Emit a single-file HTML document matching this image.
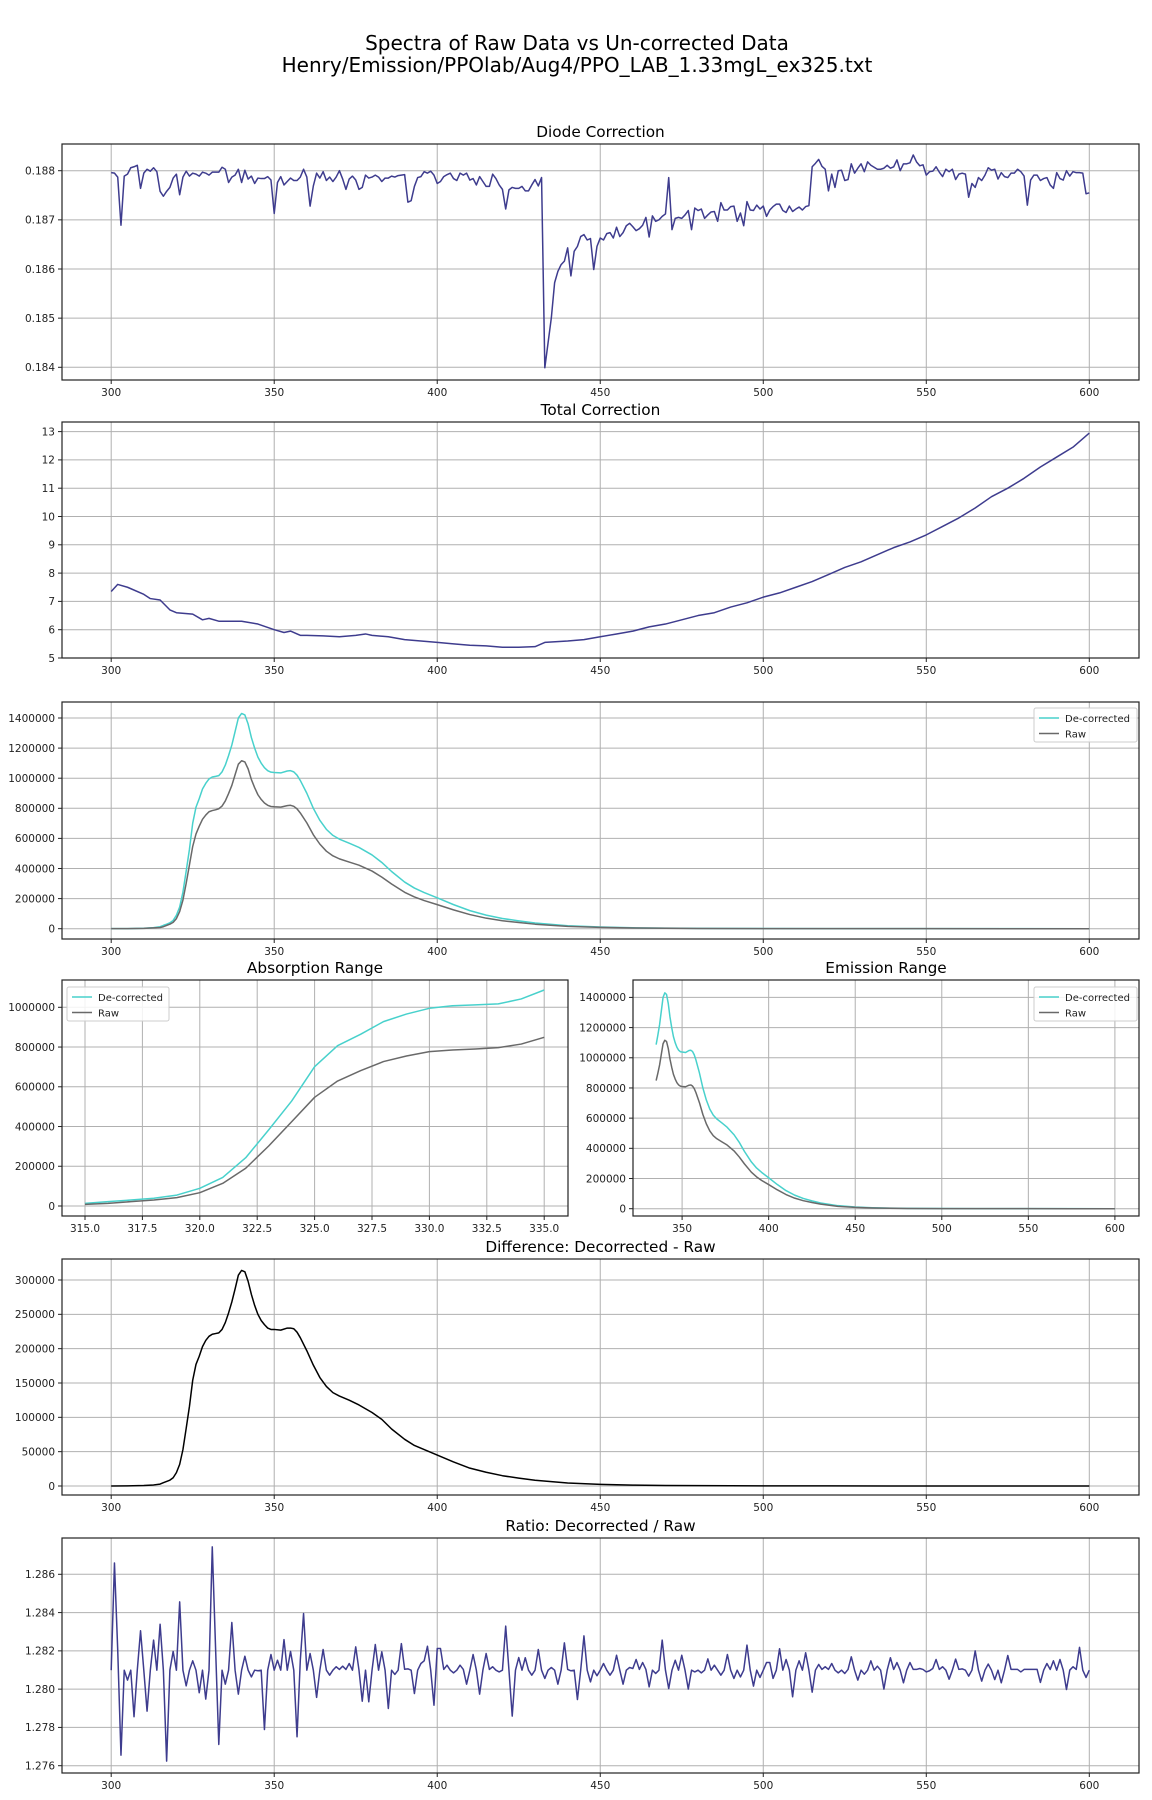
<!DOCTYPE html>
<html><head><meta charset="utf-8">
<style>
html,body{margin:0;padding:0;background:#fff;}
svg{display:block;font-family:"DejaVu Sans","Liberation Sans",sans-serif;}
</style></head>
<body>
<svg id="fig" width="1152" height="1800" viewBox="0 0 1152 1800" xmlns="http://www.w3.org/2000/svg">
<rect width="1152" height="1800" fill="#fff"/>
<text x="577" y="50" font-size="20" text-anchor="middle" fill="#000">Spectra of Raw Data vs Un-corrected Data</text>
<text x="577" y="72" font-size="20" text-anchor="middle" fill="#000">Henry/Emission/PPOlab/Aug4/PPO_LAB_1.33mgL_ex325.txt</text>
</svg>
<script>
// ---------- DATA ----------
const diodeStart = 300;
const diodeValues = [
.18796,.18795,.18787,.18689,.18789,.18793,.18806,.18808,.18811,.18764,
.18795,.18803,.18799,.18806,.18798,.18758,.18748,.18758,.18766,.18785,
.18793,.18751,.18787,.18799,.18789,.18795,.18793,.18789,.18797,.18795,
.18791,.18797,.18797,.18797,.18807,.18803,.18776,.18787,.18791,.18803,
.18776,.18801,.18783,.18789,.18774,.18785,.18784,.18784,.18788,.18781,
.18713,.18776,.18788,.18771,.18778,.18785,.18780,.18780,.18787,.18803,
.18787,.18728,.18769,.18795,.18785,.18798,.18780,.18787,.18778,.18787,
.18800,.18783,.18762,.18783,.18789,.18781,.18762,.18766,.18791,.18785,
.18787,.18791,.18787,.18778,.18785,.18785,.18789,.18787,.18790,
.18791,.18792,.18736,.18739,.18768,.18786,.18788,.18798,.18795,.18799,.18791,
.18774,.18778,.18788,.18792,.18795,.18784,.18780,.18795,.18791,.18795,
.18781,.18784,.18771,.18788,.18778,.18768,.18768,.18793,.18784,.18771,
.18762,.18722,.18761,.18766,.18764,.18764,.18768,.18759,.18759,.18771,
.18782,.18769,.18786,.18399,.18450,.18501,.18572,.18595,.18609,.18616,
.18643,.18586,.18636,.18646,.18666,.18670,.18659,.18662,.18599,.18646,
.18663,.18659,.18672,.18674,.18663,.18685,.18666,.18674,.18688,.18693,
.18686,.18678,.18682,.18689,.18705,.18665,.18708,.18697,.18700,.18707,
.18712,.18786,.18680,.18703,.18705,.18703,.18710,.18719,.18680,.18724,
.18719,.18722,.18703,.18710,.18716,.18717,.18697,.18735,.18720,.18720,
.18727,.18728,.18697,.18714,.18688,.18737,.18720,.18719,.18730,.18722,
.18728,
.18707,.18720,.18727,.18732,.18732,.18719,.18715,.18728,.18717,.18722,
.18726,.18720,.18727,.18729,.18808,.18815,.18823,.18809,.18803,.18759,
.18793,.18766,.18800,.18801,.18780,.18782,.18814,.18795,.18805,.18814,
.18798,.18818,.18811,.18807,.18803,.18803,.18805,.18811,.18805,.18808,
.18822,.18800,.18814,.18814,.18816,.18832,.18818,.18810,.18812,.18791,
.18798,.18799,.18808,.18797,.18788,.18803,.18798,.18803,.18782,.18793,
.18795,.18793,.18746,.18774,.18766,.18786,.18780,.18791,.18806,.18801,
.18803,.18783,.18796,.18788,.18786,.18795,.18795,.18803,.18798,.18789,
.18730,.18781,.18791,.18791,.18780,.18784,.18786,.18771,.18764,.18796,
.18784,.18781,.18800,.18789,.18798,.18796,.18796,.18795,.18753,.18755
];
const totalX = [300,302,305,310,312,315,318,320,325,328,330,333,335,340,345,350,353,355,358,360,365,370,375,378,380,385,390,395,400,405,410,415,420,425,430,433,440,445,450,455,460,465,470,475,480,485,490,495,500,505,510,515,520,525,530,535,540,545,550,555,560,565,570,575,580,585,590,595,600];
const totalValues = [7.35,7.6,7.5,7.25,7.1,7.05,6.7,6.6,6.55,6.35,6.4,6.3,6.3,6.3,6.2,6.0,5.9,5.95,5.8,5.8,5.78,5.75,5.8,5.85,5.8,5.75,5.65,5.6,5.55,5.5,5.45,5.43,5.38,5.38,5.4,5.55,5.6,5.65,5.75,5.85,5.95,6.1,6.2,6.35,6.5,6.6,6.8,6.95,7.15,7.3,7.5,7.7,7.95,8.2,8.4,8.65,8.9,9.1,9.35,9.65,9.95,10.3,10.7,11.0,11.35,11.75,12.1,12.45,12.95];
const specX = [300,305,310,313,315,316,317,318,319,320,321,322,323,324,325,326,327,328,329,330,331,332,333,334,335,336,337,338,339,340,341,342,343,344,345,346,347,348,349,350,352,354,355,356,357,358,360,362,364,366,368,370,373,376,380,383,386,390,393,396,400,405,410,415,420,425,430,440,450,460,470,480,500,520,550,575,600];
const decorrected = [200,800,3000,7000,13000,22000,30000,39000,55000,89000,144000,243000,383000,528000,701000,807000,864000,928000,966000,995000,1008000,1012000,1017000,1042000,1087000,1150000,1220000,1310000,1400000,1430000,1420000,1360000,1270000,1200000,1140000,1100000,1070000,1050000,1040000,1038000,1035000,1048000,1050000,1042000,1020000,985000,900000,800000,720000,660000,620000,595000,568000,540000,490000,440000,380000,310000,270000,240000,205000,160000,120000,90000,68000,52000,38000,20000,11000,6000,3500,2200,1000,500,200,100,50];
const raw = [156,625,2340,5460,8000,13000,22000,30000,42000,67000,114000,190000,302000,424000,547000,629000,681000,727000,755000,777000,785000,790000,797000,815000,849000,898000,952000,1023000,1093000,1116000,1108000,1062000,991000,937000,890000,859000,835000,820000,812000,810000,808000,818000,820000,813000,796000,769000,703000,624000,562000,515000,484000,464000,443000,422000,383000,343000,297000,242000,211000,187000,160000,125000,94000,70000,53000,41000,30000,15600,8600,4700,2700,1700,780,390,156,78,39];
const difference = [44,175,660,1540,2800,4800,6600,8500,12000,19500,31500,53000,84000,116000,154000,177000,189000,203000,212000,218000,221000,222000,223000,228000,238000,252000,268000,287000,307000,314000,312000,298000,279000,263000,250000,241000,235000,230000,228000,228000,227000,230000,230000,229000,224000,216000,197000,176000,158000,145000,136000,131000,125000,118000,107000,97000,83000,68000,59000,53000,45000,35000,26000,20000,15000,11400,8300,4400,2400,1300,770,480,220,110,44,22,11];
const ratioStart = 300;
const ratioValues = [
1.28099,1.28659,1.28204,1.27655,1.28099,1.28047,1.28099,1.27856,1.28099,1.28305,
1.28099,1.27885,1.28099,1.28256,1.28099,1.28339,1.28099,1.27624,1.28099,1.28197,
1.28099,1.28456,1.28099,1.28017,1.28099,1.28148,1.28099,1.27981,1.28099,1.27948,
1.28099,1.28743,1.28221,1.27711,1.28099,1.28026,1.28099,1.28348,1.28099,1.27974,
1.28099,1.28172,1.28099,1.28064,1.28099,1.28096,1.28099,1.27789,1.28099,1.28181,
1.28099,1.28151,1.28099,1.28259,1.28099,1.28197,1.28099,1.27751,1.28151,1.28395,
1.28099,1.28186,1.28099,1.27957,1.28099,1.28207,1.28099,1.28073,1.28099,1.28117,
1.28103,1.28120,1.28103,1.28134,1.28099,1.28221,1.28099,1.27937,1.28099,1.27934,
1.28099,1.28233,1.28099,1.28195,1.28099,1.27899,1.28099,1.28077,1.28099,1.28238,
1.28104,1.28106,1.28099,1.27977,1.28099,1.28134,1.28148,1.28224,1.28099,1.27916,
1.28212,1.28212,1.28103,1.28125,1.28099,1.28085,1.28099,1.28125,1.28103,1.28026,
1.28099,1.28181,1.28099,1.27974,1.28099,1.28186,1.28103,1.28117,1.28099,1.28090,
1.28099,1.28329,1.28099,1.27859,1.28099,1.28165,1.28099,1.28164,1.28099,1.28073,
1.28099,1.28207,1.28099,1.28056,1.28099,1.28113,1.28099,1.28026,1.28099,1.28242,
1.28103,1.28096,1.28099,1.27946,1.28099,1.28278,1.28099,1.28038,1.28099,1.28070,
1.28099,1.28134,1.28099,1.28073,1.28099,1.28177,1.28099,1.28026,1.28099,1.28113,
1.28108,1.28155,1.28103,1.28139,1.28103,1.28012,1.28099,1.28082,1.28099,1.28256,
1.28099,1.28003,1.28099,1.28151,1.28099,1.28177,1.28099,1.28000,1.28099,1.28090,
1.28099,1.28085,1.28099,1.28158,1.28099,1.28125,1.28099,1.28073,1.28099,1.28181,
1.28099,1.28056,1.28099,1.28064,1.28099,1.28230,1.28099,1.28016,1.28099,1.28061,
1.28099,1.28139,1.28139,1.28056,1.28099,1.28211,1.28099,1.28155,1.28099,1.27960,
1.28099,1.28148,1.28099,1.28190,1.28099,1.27984,1.28099,1.28129,1.28103,1.28117,
1.28103,1.28134,1.28099,1.28085,1.28099,1.28082,1.28103,1.28169,1.28099,1.28047,
1.28099,1.28078,1.28099,1.28148,1.28099,1.28120,1.28099,1.28000,1.28099,1.28164,
1.28103,1.28139,1.28099,1.28033,1.28099,1.28139,1.28103,1.28103,1.28108,1.28103,
1.28090,1.28096,1.28108,1.28155,1.28103,1.28117,1.28099,1.28052,1.28099,1.28157,
1.28103,1.28106,1.28099,1.28068,1.28099,1.28200,1.28099,1.28042,1.28099,1.28131,
1.28099,1.28050,1.28099,1.28033,1.28099,1.28176,1.28103,1.28103,1.28103,1.28090,
1.28103,1.28103,1.28103,1.28103,1.28103,1.28035,1.28099,1.28134,1.28103,1.28148,
1.28099,1.28155,1.28099,1.27998,1.28099,1.28117,1.28103,1.28218,1.28099,1.28061,
1.28099
];
const mainXTicks = [300,350,400,450,500,550,600];
const diodeYTicks = [0.184,0.185,0.186,0.187,0.188];
const totalYTicks = [5,6,7,8,9,10,11,12,13];
const specYTicks = [0,200000,400000,600000,800000,1000000,1200000,1400000];
const absXTicks = [315,317.5,320,322.5,325,327.5,330,332.5,335];
const absYTicks = [0,200000,400000,600000,800000,1000000];
const emXTicks = [350,400,450,500,550,600];
const diffYTicks = [0,50000,100000,150000,200000,250000,300000];
const ratioYTicks = [1.276,1.278,1.280,1.282,1.284,1.286];

// ---------- DRAWING ----------
const NS = 'http://www.w3.org/2000/svg';
const svg = document.getElementById('fig');
function el(tag, attrs, parent){
  const e = document.createElementNS(NS, tag);
  for (const k in attrs) e.setAttribute(k, attrs[k]);
  (parent||svg).appendChild(e);
  return e;
}
function lin(v1,p1,v2,p2){ const s=(p2-p1)/(v2-v1); return v => p1+(v-v1)*s; }

function panel(name, box, sx, sy, xticks, yticks, xfmt, yfmt, title){
  const g = el('g', {});
  
  
  const [L,T,R,B] = box;
  xticks.forEach(t => {
    const x = sx(t);
    const gl = el('line', {x1:x,x2:x,y1:T,y2:B,stroke:'#b0b0b0','stroke-width':1}, g);
    
    
    el('line', {x1:x,x2:x,y1:B,y2:B+4,stroke:'#222','stroke-width':1}, g);
    const tx = el('text', {x:x,y:B+16,'font-size':10.5,'text-anchor':'middle',fill:'#222'}, g);
    
    
    tx.textContent = xfmt(t);
  });
  yticks.forEach(t => {
    const y = sy(t);
    const gl = el('line', {x1:L,x2:R,y1:y,y2:y,stroke:'#b0b0b0','stroke-width':1}, g);
    
    
    el('line', {x1:L-4,x2:L,y1:y,y2:y,stroke:'#222','stroke-width':1}, g);
    const ty = el('text', {x:L-7,y:y+3.8,'font-size':10.5,'text-anchor':'end',fill:'#222'}, g);
    
    
    ty.textContent = yfmt(t);
  });
  const fr = el('rect', {x:L,y:T,width:R-L,height:B-T,fill:'none',stroke:'#222','stroke-width':1.2}, g);
  
  
  if (title){
    const tt = el('text', {x:(L+R)/2,y:T-7,'font-size':15.3,'text-anchor':'middle',fill:'#000'}, g);
    
    
    tt.textContent = title;
  }
  return g;
}
function series(g, name, xs, ys, sx, sy, color){
  const d = xs.map((x,i)=>(i?'L':'M')+sx(x).toFixed(2)+' '+sy(ys[i]).toFixed(2)).join(' ');
  const p = el('path', {d:d,fill:'none',stroke:color,'stroke-width':1.5,'stroke-linejoin':'round'}, g);
  
  
  return p;
}
function legend(g, name, x, y, w, entries){
  const lg = el('g', {}, g);
  
  
  el('rect', {x:x,y:y,width:w,height:34,rx:2,fill:'#fff','fill-opacity':0.85,stroke:'#cccccc','stroke-width':1}, lg);
  entries.forEach((e,i) => {
    const yy = y + 10 + i*15.5;
    const ln = el('line', {x1:x+5,x2:x+25,y1:yy,y2:yy,stroke:e[1],'stroke-width':1.5}, lg);
    
    
    const t = el('text', {x:x+31,y:yy+3.8,'font-size':10,fill:'#222'}, lg);
    
    
    t.textContent = e[0];
  });
}
const BLUE = '#3e3c8e', TEAL = '#48d1cc', GRAY = '#696969';
const mainSX = lin(300,111.2,600,1089.3);
const fInt = v => String(v);
const seq = (start, n) => Array.from({length:n}, (_,i)=>start+i);

// 1 Diode
{
  const sy = lin(0.188,170.7,0.184,367.3);
  const g = panel('diode-correction-chart',[62,144,1139,380],mainSX,sy,mainXTicks,diodeYTicks,fInt,v=>v.toFixed(3),'Diode Correction');
  series(g,'diode-correction-line',seq(diodeStart,diodeValues.length),diodeValues,mainSX,sy,BLUE);
}
// 2 Total
{
  const sy = lin(13,431.6,5,658);
  const g = panel('total-correction-chart',[62,422,1139,658],mainSX,sy,mainXTicks,totalYTicks,fInt,fInt,'Total Correction');
  series(g,'total-correction-line',totalX,totalValues,mainSX,sy,BLUE);
}
// 3 Spectra
{
  const sy = lin(0,928.7,1400000,718);
  const g = panel('spectra-chart',[62,702,1139,939],mainSX,sy,mainXTicks,specYTicks,fInt,fInt,null);
  series(g,'decorrected-line',specX,decorrected,mainSX,sy,TEAL);
  series(g,'raw-line',specX,raw,mainSX,sy,GRAY);
  legend(g,'spectra-legend',1034,708,103,[['De-corrected',TEAL],['Raw',GRAY]]);
}
// 4 Absorption
{
  const sx = lin(315,85,335,544.2);
  const sy = lin(0,1206,1000000,1007.3);
  const g = panel('absorption-range-chart',[62,980,568,1216],sx,sy,absXTicks,absYTicks,v=>v.toFixed(1),fInt,'Absorption Range');
  const ix = specX.map((x,i)=>i).filter(i=>specX[i]>=315&&specX[i]<=335);
  series(g,'absorption-decorrected-line',ix.map(i=>specX[i]),ix.map(i=>decorrected[i]),sx,sy,TEAL);
  series(g,'absorption-raw-line',ix.map(i=>specX[i]),ix.map(i=>raw[i]),sx,sy,GRAY);
  legend(g,'absorption-legend',67,987,102,[['De-corrected',TEAL],['Raw',GRAY]]);
}
// 5 Emission
{
  const sx = lin(350,682.1,600,1114.9);
  const sy = lin(0,1208.7,1400000,997.4);
  const g = panel('emission-range-chart',[633,980,1139,1216],sx,sy,emXTicks,specYTicks,fInt,fInt,'Emission Range');
  const ix = specX.map((x,i)=>i).filter(i=>specX[i]>=335);
  series(g,'emission-decorrected-line',ix.map(i=>specX[i]),ix.map(i=>decorrected[i]),sx,sy,TEAL);
  series(g,'emission-raw-line',ix.map(i=>specX[i]),ix.map(i=>raw[i]),sx,sy,GRAY);
  legend(g,'emission-legend',1034,987,103,[['De-corrected',TEAL],['Raw',GRAY]]);
}
// 6 Difference
{
  const sy = lin(0,1486,300000,1280);
  const g = panel('difference-chart',[62,1259,1139,1495],mainSX,sy,mainXTicks,diffYTicks,fInt,fInt,'Difference: Decorrected - Raw');
  series(g,'difference-line',specX,difference,mainSX,sy,'#000');
}
// 7 Ratio
{
  const sy = lin(1.286,1574.3,1.276,1765.7);
  const g = panel('ratio-chart',[62,1538,1139,1773],mainSX,sy,mainXTicks,ratioYTicks,fInt,v=>v.toFixed(3),'Ratio: Decorrected / Raw');
  series(g,'ratio-line',seq(ratioStart,ratioValues.length),ratioValues,mainSX,sy,BLUE);
}
</script>
</body></html>
